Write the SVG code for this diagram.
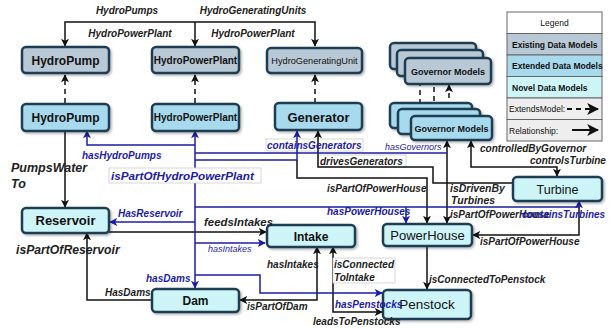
<svg xmlns="http://www.w3.org/2000/svg" width="611" height="329" viewBox="0 0 611 329">
<defs>
<filter id="sh" x="-10%" y="-20%" width="130%" height="160%"><feDropShadow dx="1.5" dy="1.5" stdDeviation="1" flood-color="#000" flood-opacity="0.3"/></filter>
<marker id="ak" markerWidth="8" markerHeight="8" viewBox="0 0 10 10" refX="9" refY="5" orient="auto-start-reverse" markerUnits="userSpaceOnUse"><path d="M0,0 L10,5 L0,10 L2.5,5 Z" fill="#111"/></marker>
<marker id="ab" markerWidth="8" markerHeight="8" viewBox="0 0 10 10" refX="9" refY="5" orient="auto-start-reverse" markerUnits="userSpaceOnUse"><path d="M0,0 L10,5 L0,10 L2.5,5 Z" fill="#1c1ca8"/></marker>
<marker id="al" markerWidth="12" markerHeight="12" viewBox="0 0 10 10" refX="9" refY="5" orient="auto" markerUnits="userSpaceOnUse"><path d="M0,0 L10,5 L0,10 L2.5,5 Z" fill="#111"/></marker>
</defs>
<style>
.n rect{stroke:#1f3d52;stroke-width:2.5;filter:url(#sh)}
.ex{fill:#b8c8d5}.ed{fill:#a8daed}.nv{fill:#cdf5f7}
.t{font-family:"Liberation Sans",Arial,sans-serif;fill:#111;text-anchor:middle}
.b{font-weight:bold}
.k{fill:none;stroke:#111;stroke-width:1.5}
.bl{fill:none;stroke:#1c1ca8;stroke-width:1.5}
.d{stroke-dasharray:5,4}
.l{font-family:"Liberation Sans",Arial,sans-serif;font-style:italic;font-weight:bold;font-size:10px;fill:#222}
.lb{fill:#1c1ca8}
.r{font-weight:normal}
.bg{fill:#fff;stroke:#ccc;stroke-width:0.8}
.lg{font-family:"Liberation Sans",Arial,sans-serif;font-size:8.5px;fill:#111}
</style>

<g id="connectors">
<path class="k" d="M65,46 V22 H315 V46" marker-start="url(#ak)" marker-end="url(#ak)"/>
<path class="k" d="M195,22 V46" marker-end="url(#ak)"/>
<path class="k d" d="M65,103 V75" marker-end="url(#ak)"/>
<path class="k d" d="M195,103 V75" marker-end="url(#ak)"/>
<path class="k d" d="M315,103 V75" marker-end="url(#ak)"/>
<path class="k d" d="M420,104 V85"/>
<path class="k d" d="M434,110 V85"/>
<path class="k d" d="M449,116 V85" marker-end="url(#ak)"/>
<path class="k" d="M65,131 V207" marker-end="url(#ak)"/>
<rect class="bg" x="266" y="139" width="97" height="12"/>
<rect class="bg" x="318" y="155" width="88" height="12"/>
<path class="k" d="M513,183 H433 V167 H318 V131" marker-end="url(#ak)"/>
<path class="k" d="M297,160 V178 H427 V223" marker-end="url(#ak)"/>
<path class="k" d="M447,141 V223" marker-start="url(#ak)" marker-end="url(#ak)"/>
<path class="k" d="M471,141 V167 H557 V176" marker-start="url(#ak)" marker-end="url(#ak)"/>
<path class="k" d="M579,207 V235 H473" marker-end="url(#ak)"/>
<path class="k" d="M109,232 H266" marker-end="url(#ak)"/>
<path class="k" d="M152,300 H87 V233" marker-end="url(#ak)"/>
<path class="k" d="M240,300 H317 V247" marker-start="url(#ak)" marker-end="url(#ak)"/>
<path class="k" d="M333,247 V312 H382" marker-start="url(#ak)" marker-end="url(#ak)"/>
<path class="k" d="M427,246 V289" marker-end="url(#ak)"/>
<path class="bl" d="M195,131 V288" marker-start="url(#ab)" marker-end="url(#ab)"/>
<path class="bl" d="M195,145 H87 V131" marker-end="url(#ab)"/>
<path class="bl" d="M195,153 H447"/>
<path class="bl" d="M195,160 H297 V131" marker-end="url(#ab)"/>
<path class="bl" d="M195,207 H579 V201" marker-end="url(#ab)"/>
<path class="bl" d="M406,207 V223" marker-end="url(#ab)"/>
<path class="bl" d="M195,222 H110" marker-end="url(#ab)"/>
<path class="bl" d="M195,243 H265" marker-end="url(#ab)"/>
<path class="bl" d="M195,275 H260 V293 H382" marker-end="url(#ab)"/>
</g>

<g id="n-hydropump-ex" class="n"><rect class="ex" x="22" y="47" width="87" height="26" rx="4"/><text class="t b" x="65.5" y="64.5" font-size="12">HydroPump</text></g>
<g id="n-hpp-ex" class="n"><rect class="ex" x="152" y="47" width="87" height="26" rx="4"/><text class="t b" x="195.5" y="63.5" font-size="10">HydroPowerPlant</text></g>
<g id="n-hgu-ex" class="n"><rect class="ex" x="267" y="48" width="95" height="25" rx="4"/><text class="t" x="314.5" y="64" font-size="9.2">HydroGeneratingUnit</text></g>
<g id="n-gov-ex" class="n">
<rect class="ex" x="390" y="43" width="86" height="26" rx="4"/>
<rect class="ex" x="397" y="50" width="86" height="26" rx="4"/>
<rect class="ex" x="405" y="58" width="86" height="26" rx="4"/>
<text class="t b" x="448" y="74.5" font-size="9">Governor Models</text></g>

<g id="n-hydropump" class="n"><rect class="ed" x="22" y="104" width="87" height="27" rx="4"/><text class="t b" x="65.5" y="122" font-size="12">HydroPump</text></g>
<g id="n-hpp" class="n"><rect class="ed" x="152" y="104" width="87" height="27" rx="4"/><text class="t b" x="195.5" y="121" font-size="10">HydroPowerPlant</text></g>
<g id="n-generator" class="n"><rect class="ed" x="275" y="103" width="87" height="27" rx="4"/><text class="t b" x="318.5" y="121.5" font-size="13">Generator</text></g>
<g id="n-gov" class="n">
<rect class="ed" x="390" y="103" width="82" height="25" rx="4"/>
<rect class="ed" x="398" y="109" width="82" height="25" rx="4"/>
<rect class="ed" x="411" y="116" width="81" height="24" rx="4"/>
<text class="t b" x="451.5" y="131.5" font-size="9">Governor Models</text></g>

<g id="n-turbine" class="n"><rect class="nv" x="513" y="177" width="89" height="24" rx="4"/><text class="t" x="557.5" y="193.5" font-size="12.5">Turbine</text></g>
<g id="n-reservoir" class="n"><rect class="nv" x="22" y="208" width="87" height="25" rx="4"/><text class="t b" x="65.5" y="225" font-size="13">Reservoir</text></g>
<g id="n-intake" class="n"><rect class="nv" x="267" y="225" width="88" height="22" rx="4"/><text class="t b" x="311" y="240.5" font-size="12">Intake</text></g>
<g id="n-powerhouse" class="n"><rect class="nv" x="383" y="224" width="89" height="22" rx="4"/><text class="t" x="427.5" y="240" font-size="13">PowerHouse</text></g>
<g id="n-dam" class="n"><rect class="nv" x="152" y="289" width="87" height="23" rx="4"/><text class="t b" x="195.5" y="305" font-size="12">Dam</text></g>
<g id="n-penstock" class="n"><rect class="nv" x="383" y="290" width="88" height="29" rx="4"/><text class="t" x="427" y="309" font-size="13.5">Penstock</text></g>

<g id="labels">
<text class="l" x="127" y="14" text-anchor="middle">HydroPumps</text>
<text class="l" x="253" y="14" text-anchor="middle">HydroGeneratingUnits</text>
<text class="l" x="130" y="36.5" text-anchor="middle">HydroPowerPlant</text>
<text class="l" x="253" y="36.5" text-anchor="middle">HydroPowerPlant</text>
<text class="l" x="11" y="172" style="font-size:12.5px">PumpsWater</text>
<text class="l" x="11" y="188" style="font-size:12.5px">To</text>
<text class="l lb" x="82" y="159">hasHydroPumps</text>
<rect class="bg" x="109" y="168" width="152" height="15"/>
<text class="l lb" x="111" y="180" style="font-size:11.7px">isPartOfHydroPowerPlant</text>
<text class="l lb" x="267" y="148.5">containsGenerators</text>
<text class="l lb r" x="385" y="150" style="font-size:9px">hasGovernors</text>
<text class="l" x="320" y="164.5">drivesGenerators</text>
<text class="l" x="327" y="192">isPartOfPowerHouse</text>
<text class="l" x="450" y="192" style="font-size:10.5px">isDrivenBy</text>
<text class="l" x="451" y="204" style="font-size:10.5px">Turbines</text>
<text class="l" x="480" y="152">controlledByGovernor</text>
<text class="l" x="530" y="164">controlsTurbine</text>
<text class="l lb" x="327" y="215">hasPowerHouses</text>
<text class="l" x="450" y="218">isPartOfPowerHouse</text>
<text class="l lb" x="522" y="218">containsTurbines</text>
<text class="l" x="480" y="245">isPartOfPowerHouse</text>
<text class="l lb" x="118" y="217">HasReservoir</text>
<text class="l" x="204" y="226" style="font-size:11.4px">feedsIntakes</text>
<text class="l lb r" x="208" y="252" style="font-size:9px">hasIntakes</text>
<text class="l" x="16" y="254" style="font-size:12.2px">isPartOfReservoir</text>
<text class="l" x="267" y="268">hasIntakes</text>
<rect class="bg" x="333" y="258" width="62" height="25"/>
<text class="l" x="334" y="268">isConnected</text>
<text class="l" x="334" y="280.5">ToIntake</text>
<text class="l" x="429" y="283">isConnectedToPenstock</text>
<text class="l lb" x="146" y="282">hasDams</text>
<text class="l" x="105" y="296">HasDams</text>
<text class="l" x="247" y="310">isPartOfDam</text>
<text class="l lb" x="335" y="308">hasPenstocks</text>
<text class="l" x="313" y="325">leadsToPenstocks</text>
</g>

<g id="legend">
<rect x="507" y="12" width="95" height="21.5" fill="#fff" stroke="#666"/>
<rect x="507" y="33.5" width="95" height="21.5" fill="#b8c8d5" stroke="#666"/>
<rect x="507" y="55" width="95" height="21.5" fill="#a8daed" stroke="#666"/>
<rect x="507" y="76.5" width="95" height="21.5" fill="#cdf5f7" stroke="#666"/>
<rect x="507" y="98" width="95" height="21.5" fill="#eee" stroke="#666"/>
<rect x="507" y="119.5" width="95" height="21.5" fill="#eee" stroke="#666"/>
<text class="lg" x="554.5" y="26" text-anchor="middle" font-size="8">Legend</text>
<text class="lg" x="512" y="47.5" font-weight="bold">Existing Data Models</text>
<text class="lg" x="512" y="69" font-weight="bold">Extended Data Models</text>
<text class="lg" x="512" y="90.5" font-weight="bold">Novel Data Models</text>
<text class="lg" x="509" y="112">ExtendsModel:</text>
<text class="lg" x="509" y="133.5">Relationship:</text>
<path d="M567,109 H598" stroke="#111" stroke-width="2" stroke-dasharray="5,4" marker-end="url(#al)" fill="none"/>
<path d="M572,130 H598" stroke="#111" stroke-width="2" marker-end="url(#al)" fill="none"/>
</g>
</svg>
